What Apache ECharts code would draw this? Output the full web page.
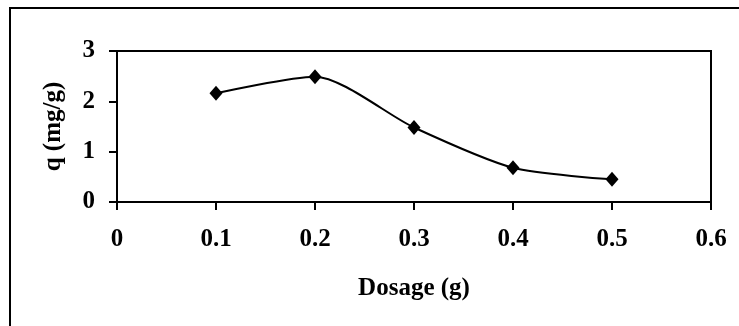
<!DOCTYPE html>
<html>
<head>
<meta charset="utf-8">
<script src="https://cdn.jsdelivr.net/npm/echarts@6/dist/echarts.min.js"></script>
<style>
html,body{margin:0;padding:0;background:#fff;}
#c{width:739px;height:326px;}
</style>
</head>
<body>
<div id="c"></div>
<script>
const dosage = [0.1, 0.2, 0.3, 0.4, 0.5];
const qValues = [2.16, 2.49, 1.48, 0.68, 0.45];
const xTicks = [0, 0.1, 0.2, 0.3, 0.4, 0.5, 0.6];
const yTicks = [0, 1, 2, 3];
const xTitle = 'Dosage (g)';
const yTitle = 'q (mg/g)';

const font = '"Liberation Serif", "Times New Roman", serif';
const chart = echarts.init(document.getElementById('c'), null, {renderer: 'canvas'});
chart.setOption({
  animation: false,
  backgroundColor: '#fff',
  graphic: [{
    type: 'rect',
    shape: {x: 10, y: 8, width: 760, height: 340},
    style: {fill: 'none', stroke: '#000', lineWidth: 2}
  }],
  grid: {left: 117, right: 28, top: 51, bottom: 124, show: true, borderColor: '#000', borderWidth: 2, backgroundColor: 'transparent'},
  xAxis: {
    type: 'value', min: xTicks[0], max: xTicks[xTicks.length - 1], interval: 0.1,
    name: xTitle, nameLocation: 'middle', nameGap: 74,
    nameTextStyle: {fontFamily: font, fontWeight: 'bold', fontSize: 25, color: '#000'},
    axisLine: {lineStyle: {color: '#000', width: 2}},
    axisTick: {show: true, inside: false, length: 8, lineStyle: {color: '#000', width: 2}},
    splitLine: {show: false},
    axisLabel: {margin: 25, fontFamily: font, fontWeight: 'bold', fontSize: 25, color: '#000',
      formatter: v => String(Math.round(v * 10) / 10)}
  },
  yAxis: {
    type: 'value', min: yTicks[0], max: yTicks[yTicks.length - 1], interval: 1,
    name: yTitle, nameLocation: 'middle', nameGap: 51, nameRotate: 90,
    nameTextStyle: {fontFamily: font, fontWeight: 'bold', fontSize: 25, color: '#000'},
    axisLine: {show: true, lineStyle: {color: '#000', width: 2}},
    axisTick: {show: true, inside: false, length: 8, lineStyle: {color: '#000', width: 2}},
    splitLine: {show: false},
    axisLabel: {margin: 22, fontFamily: font, fontWeight: 'bold', fontSize: 25, color: '#000'}
  },
  series: [{
    type: 'line',
    data: dosage.map((x, i) => [x, qValues[i]]),
    smooth: 0.25,
    symbol: 'diamond', symbolSize: [13, 15],
    lineStyle: {color: '#000', width: 2},
    itemStyle: {color: '#000'}
  }]
});
</script>
</body>
</html>
